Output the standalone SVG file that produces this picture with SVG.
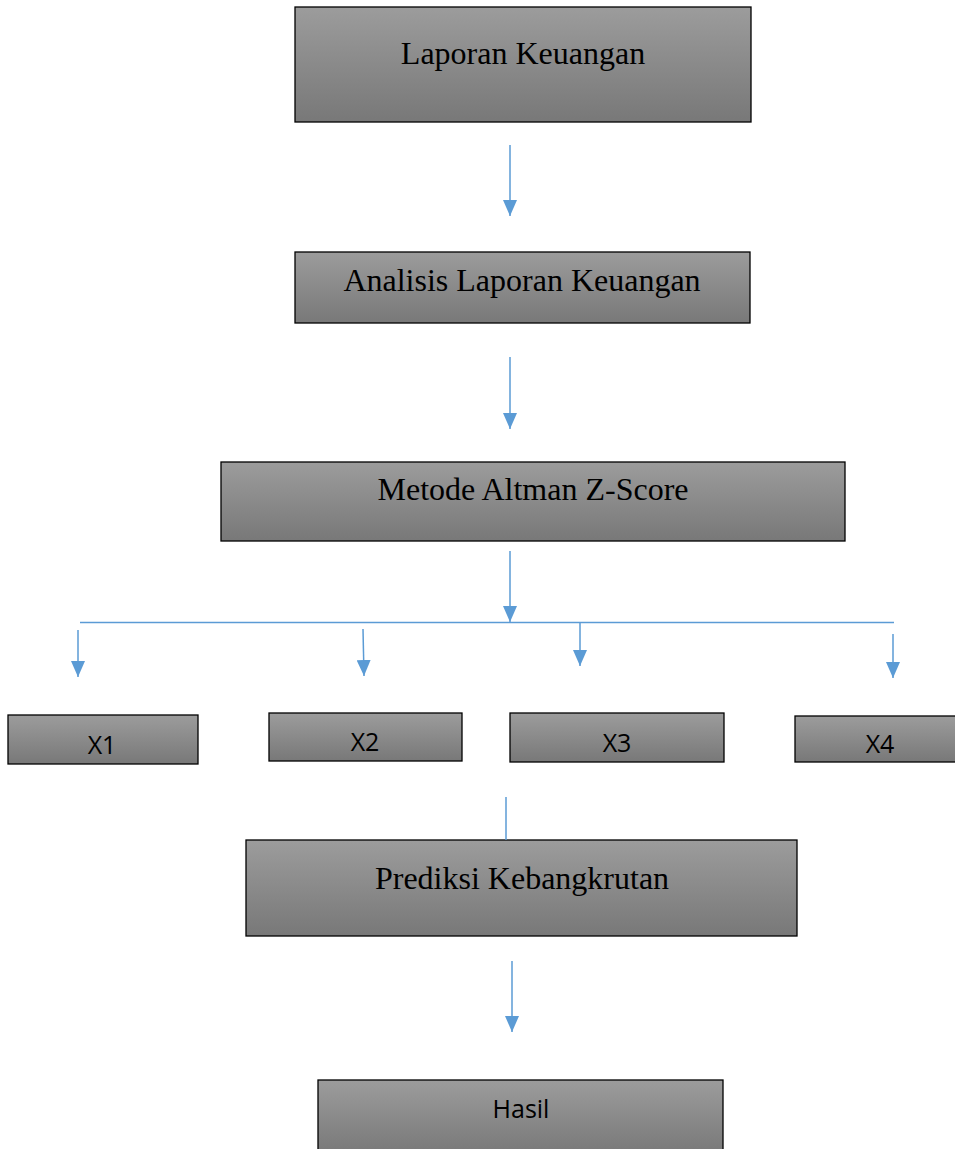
<svg xmlns="http://www.w3.org/2000/svg" width="955" height="1149" viewBox="0 0 955 1149">
<defs>
<linearGradient id="g" x1="0" y1="0" x2="0" y2="1">
<stop offset="0" stop-color="#9c9c9c"/>
<stop offset="1" stop-color="#787878"/>
</linearGradient>
<marker id="ah" markerWidth="16" markerHeight="14" refX="16" refY="7" orient="auto" markerUnits="userSpaceOnUse" viewBox="0 0 16 14">
<path d="M0,0 L16,7 L0,14 Z" fill="#5b9bd5"/>
</marker>
</defs>
<style>
.box{fill:url(#g);stroke:#000;stroke-width:1.3}
.serif{font-family:"Liberation Serif","Times New Roman",serif;font-size:32px;fill:#000;text-anchor:middle}
.sans{font-family:"Open Sans","Liberation Sans",sans-serif;font-size:25px;fill:#000;text-anchor:middle}
.c{stroke:#5b9bd5;stroke-width:1.5;fill:none}
</style>
<rect width="955" height="1149" fill="#fff"/>
<g id="n1"><rect class="box" x="295" y="7" width="456" height="115"/><text class="serif" x="523" y="64">Laporan Keuangan</text></g>
<g id="n2"><rect class="box" x="295" y="252" width="455" height="71"/><text class="serif" x="522" y="291">Analisis Laporan Keuangan</text></g>
<g id="n3"><rect class="box" x="221" y="462" width="624" height="79"/><text class="serif" x="533" y="500">Metode Altman Z-Score</text></g>
<g id="x1"><rect class="box" x="8" y="715" width="190" height="49"/><text class="sans" x="102" y="754">X1</text></g>
<g id="x2"><rect class="box" x="269" y="713" width="193" height="48"/><text class="sans" x="365" y="751">X2</text></g>
<g id="x3"><rect class="box" x="510" y="713" width="214" height="49"/><text class="sans" x="617" y="752">X3</text></g>
<g id="x4"><rect class="box" x="795" y="716" width="165" height="46"/><text class="sans" x="880" y="753">X4</text></g>
<g id="n5"><rect class="box" x="246" y="840" width="551" height="96"/><text class="serif" x="522" y="889">Prediksi Kebangkrutan</text></g>
<g id="n6"><rect class="box" x="318" y="1080" width="405" height="75"/><text class="sans" x="521" y="1118">Hasil</text></g>
<g id="connectors">
<line class="c" x1="510" y1="145" x2="510" y2="216" marker-end="url(#ah)"/>
<line class="c" x1="510" y1="357" x2="510" y2="429" marker-end="url(#ah)"/>
<line class="c" x1="510" y1="551" x2="510" y2="622" marker-end="url(#ah)"/>
<line class="c" x1="80" y1="622.5" x2="894" y2="622.5"/>
<line class="c" x1="78" y1="630" x2="78" y2="677" marker-end="url(#ah)"/>
<line class="c" x1="363" y1="629" x2="364" y2="676" marker-end="url(#ah)"/>
<line class="c" x1="580" y1="622" x2="580" y2="666" marker-end="url(#ah)"/>
<line class="c" x1="893" y1="634" x2="893" y2="678" marker-end="url(#ah)"/>
<line class="c" x1="506" y1="797" x2="506" y2="840"/>
<line class="c" x1="512" y1="961" x2="512" y2="1032" marker-end="url(#ah)"/>
</g>
</svg>
